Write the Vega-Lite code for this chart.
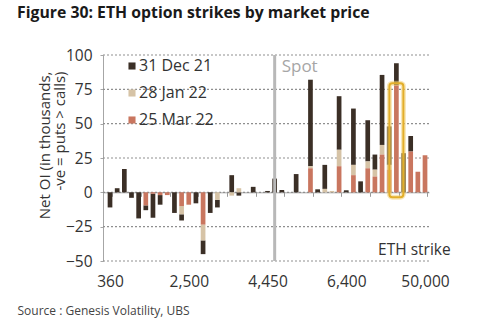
{
  "$schema": "https://vega.github.io/schema/vega-lite/v6.json",
  "width": 326,
  "height": 206,
  "autosize": {"type": "none"},
  "padding": {"left": 103, "top": 55, "right": 71, "bottom": 61},
  "background": "white",
  "title": {
    "text": "Figure 30: ETH option strikes by market price",
    "anchor": "start",
    "frame": "group",
    "dx": -86,
    "offset": 11,
    "baseline": "bottom",
    "font": "Open Sans",
    "fontSize": 15.8,
    "fontWeight": "bold",
    "color": "#1a1a1a"
  },
  "config": {"font": "Open Sans", "view": {"stroke": null}},
  "resolve": {"axis": {"x": "independent", "y": "independent"}},
  "data": {
    "values": [
      {"k": 0, "dec": -11},
      {"k": 1, "dec": 3},
      {"k": 2, "dec": 17},
      {"k": 3, "dec": -4},
      {"k": 4, "dec": -19},
      {"k": 5, "mar": -9.5, "dec": -3.5},
      {"k": 6, "mar": -1, "dec": -17.5},
      {"k": 7, "mar": -2, "dec": -7},
      {"k": 8, "mar": -2},
      {"k": 9, "dec": -15},
      {"k": 10, "mar": -10, "jan": -6, "dec": -4.5},
      {"k": 11, "mar": -9},
      {"k": 12, "dec": -8},
      {"k": 13, "mar": -23.5, "jan": -11.5, "dec": -10},
      {"k": 14, "dec": -15},
      {"k": 15, "jan": -5.5, "dec": -5.5},
      {"k": 17, "jan": -2.4, "dec": 12.5},
      {"k": 18, "jan": 3, "dec": -2.4},
      {"k": 20, "dec": 4},
      {"k": 22, "dec": 1},
      {"k": 23, "dec": 10},
      {"k": 24, "dec": 1.7},
      {"k": 26, "dec": 13.3},
      {"k": 28, "mar": 17.5, "jan": 1.5, "dec": 63},
      {"k": 29, "dec": 2.2},
      {"k": 30, "jan": 2.5, "dec": 17.5},
      {"k": 31, "jan": 1},
      {"k": 32, "mar": 19, "jan": 12, "dec": 39},
      {"k": 33, "dec": 1.5},
      {"k": 34, "mar": 12.5, "jan": 7.5, "dec": 41},
      {"k": 35, "dec": 8},
      {"k": 36, "mar": 17.5, "jan": 5, "dec": 30},
      {"k": 37, "mar": 11.5, "jan": 5, "dec": 11},
      {"k": 38, "mar": 27.5, "jan": 7, "dec": 51},
      {"k": 39, "mar": 16.5, "jan": 3.5, "dec": 28},
      {"k": 40, "mar": 78, "dec": 16},
      {"k": 41, "dec": 28.5},
      {"k": 42, "mar": 29.7, "dec": 11.3},
      {"k": 43, "mar": 15},
      {"k": 44, "mar": 27}
    ]
  },
  "layer": [
    {
      "data": {"values": [{"g": -50}, {"g": -25}, {"g": 0}, {"g": 25}, {"g": 50}, {"g": 75}, {"g": 100}]},
      "mark": {"type": "rule", "color": "#8f8f8f", "strokeWidth": 1.2, "strokeDash": [2, 2]},
      "encoding": {"y": {"field": "g", "type": "quantitative", "axis": null}}
    },
    {
      "transform": [
        {"fold": ["dec", "jan", "mar"], "as": ["series", "oi"]},
        {"filter": "isValid(datum.oi)"}
      ],
      "mark": {"type": "bar"},
      "encoding": {
        "x": {
          "field": "k",
          "type": "ordinal",
          "scale": {
            "domain": [0,1,2,3,4,5,6,7,8,9,10,11,12,13,14,15,16,17,18,19,20,21,22,23,24,25,26,27,28,29,30,31,32,33,34,35,36,37,38,39,40,41,42,43,44],
            "paddingInner": 0.344,
            "paddingOuter": 0.44,
            "align": 0.74
          },
          "axis": {
            "labelExpr": "datum.value == 0 ? '360' : datum.value == 11 ? '2,500' : datum.value == 22 ? '4,450' : datum.value == 33 ? '6,400' : datum.value == 44 ? '50,000' : ''",
            "labelAngle": 0,
            "labelOverlap": false,
            "offset": -68.7,
            "tickBand": "extent",
            "tickSize": 4,
            "tickColor": "#999999",
            "tickOpacity": {"condition": {"test": "datum.value % 4 == 0", "value": 1}, "value": 0},
            "domainColor": "#a6a6a6",
            "labelPadding": 78,
            "labelFontSize": 15.5,
            "labelColor": "#333333",
            "grid": false,
            "title": "Source : Genesis Volatility, UBS",
            "titleX": -86,
            "titleY": 118,
            "titleAlign": "left",
            "titleAnchor": "start",
            "titleBaseline": "middle",
            "titleFontSize": 12,
            "titleFontWeight": "normal",
            "titleColor": "#444444"
          }
        },
        "y": {
          "field": "oi",
          "type": "quantitative",
          "stack": "zero",
          "scale": {"domain": [-50, 100], "nice": false},
          "axis": {
            "values": [-50, -25, 0, 25, 50, 75, 100],
            "labelOverlap": false,
            "title": ["Net OI (in thousands,", "-ve = puts > calls)"],
            "titleX": -58.5,
            "titleY": 16,
            "titleAlign": "right",
            "titleBaseline": "middle",
            "titleFontSize": 15,
            "titleFontWeight": "normal",
            "titleColor": "#333333",
            "titleLineHeight": 15,
            "labelFontSize": 15.5,
            "labelColor": "#333333",
            "labelPadding": 8,
            "tickSize": 3,
            "tickColor": "#a6a6a6",
            "domainColor": "#a6a6a6",
            "grid": false
          }
        },
        "color": {
          "field": "series",
          "type": "nominal",
          "scale": {"domain": ["dec", "jan", "mar"], "range": ["#3b2f26", "#d6c3a6", "#c9765f"]},
          "legend": {
            "title": null,
            "orient": "none",
            "legendX": 21,
            "legendY": 3,
            "padding": 0,
            "symbolType": "square",
            "symbolSize": 50,
            "symbolStrokeWidth": 0,
            "labelFontSize": 16,
            "labelColor": "#333333",
            "labelOffset": -1,
            "rowPadding": 11,
            "labelExpr": "datum.label == 'dec' ? '31 Dec 21' : datum.label == 'jan' ? '28 Jan 22' : '25 Mar 22'"
          }
        },
        "order": {"field": "series", "sort": "descending"}
      }
    },
    {
      "data": {"values": [{"strike": "Spot"}]},
      "mark": {"type": "rule", "color": "#b8b8b8", "strokeWidth": 3},
      "encoding": {"x": {"datum": 23, "type": "ordinal", "axis": null}}
    },
    {
      "data": {"values": [{"note": "highlight"}]},
      "mark": {"type": "bar", "filled": false, "stroke": "#f2d27a", "strokeWidth": 5, "strokeOpacity": 0.55, "cornerRadius": 3, "width": 14},
      "encoding": {"x": {"datum": 40, "type": "ordinal", "axis": null}, "y": {"datum": 79.5, "type": "quantitative", "axis": null}, "y2": {"datum": -3.5}}
    },
    {
      "data": {"values": [{"note": "highlight"}]},
      "mark": {"type": "bar", "filled": false, "stroke": "#e2ae2a", "strokeWidth": 2, "cornerRadius": 3, "width": 14},
      "encoding": {"x": {"datum": 40, "type": "ordinal", "axis": null}, "y": {"datum": 79.5, "type": "quantitative", "axis": null}, "y2": {"datum": -3.5}}
    },
    {
      "data": {"values": [{"label": "Spot"}]},
      "mark": {"type": "text", "align": "left", "baseline": "alphabetic", "dx": 7, "fontSize": 17, "color": "#a6a6a6"},
      "encoding": {"text": {"field": "label"}, "x": {"datum": 23, "type": "ordinal", "axis": null}, "y": {"datum": 87.4, "type": "quantitative", "axis": null}}
    },
    {
      "data": {"values": [{"label": "ETH strike"}]},
      "mark": {"type": "text", "align": "left", "baseline": "alphabetic", "dx": -4, "fontSize": 15.5, "color": "#333333"},
      "encoding": {"text": {"field": "label"}, "x": {"datum": 38, "type": "ordinal", "axis": null}, "y": {"datum": -45.7, "type": "quantitative", "axis": null}}
    }
  ]
}
